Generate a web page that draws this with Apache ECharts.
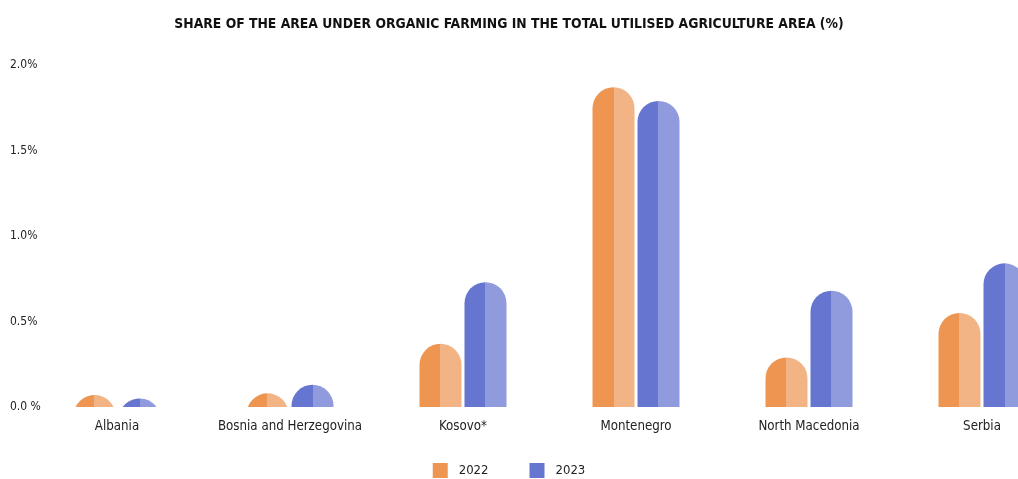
<!DOCTYPE html>
<html><head><meta charset="utf-8">
<script src="https://cdn.jsdelivr.net/npm/echarts@6/dist/echarts.min.js"></script>
<style>html,body{margin:0;padding:0;background:#fff}#c{width:1018px;height:479px}</style>
</head><body><div id="c"></div>
<script>
var categories = ['Albania', 'Bosnia and Herzegovina', 'Kosovo*', 'Montenegro', 'North Macedonia', 'Serbia'];
var values2022 = [0.07, 0.08, 0.37, 1.87, 0.29, 0.55];
var values2023 = [0.05, 0.13, 0.73, 1.79, 0.68, 0.84];
var yTickLabels = ['0.0 %', '0.5%', '1.0%', '1.5%', '2.0%'];

var FONT = '"Liberation Sans Narrow", "DejaVu Sans Condensed", sans-serif';
var BAR_W = 42, GAP = 3;
var COLORS = {
  '2022': ['#EF9552', '#F2B385'],
  '2023': ['#6675D0', '#8F9BDC']
};

function makeRender(seriesIdx, name) {
  return function (params, api) {
    var ci = api.value(0), v = api.value(1);
    var top = api.coord([ci, v]);
    var base = api.coord([ci, 0]);
    var cx = top[0] + (seriesIdx === 0 ? -(GAP / 2 + BAR_W / 2) : (GAP / 2 + BAR_W / 2));
    var yt = top[1], yb = base[1];
    var r = BAR_W / 2, h = yb - yt, d;
    if (h <= 0) return null;
    if (h >= r) {
      var x0 = cx - r, x1 = cx + r;
      d = 'M' + x0 + ' ' + yb + 'L' + x0 + ' ' + (yt + r) + 'A' + r + ' ' + r + ' 0 0 1 ' + x1 + ' ' + (yt + r) + 'L' + x1 + ' ' + yb + 'Z';
    } else {
      var cy = yt + r;
      var hw = Math.sqrt(r * r - (cy - yb) * (cy - yb));
      d = 'M' + (cx - hw) + ' ' + yb + 'A' + r + ' ' + r + ' 0 0 1 ' + (cx + hw) + ' ' + yb + 'Z';
    }
    var c = COLORS[name];
    return {
      type: 'path',
      shape: { pathData: d },
      style: {
        fill: new echarts.graphic.LinearGradient(0, 0, 1, 0, [
          { offset: 0, color: c[0] }, { offset: 0.5, color: c[0] },
          { offset: 0.5, color: c[1] }, { offset: 1, color: c[1] }
        ])
      }
    };
  };
}

var chart = echarts.init(document.getElementById('c'), null, { renderer: 'canvas' });
chart.setOption({
  backgroundColor: '#fff',
  animation: false,
  title: {
    text: 'SHARE OF THE AREA UNDER ORGANIC FARMING IN THE TOTAL UTILISED AGRICULTURE AREA (%)',
    left: 'center', top: 12,
    textStyle: { fontFamily: FONT, fontWeight: 'bold', fontSize: 13.8, color: '#111' }
  },
  legend: {
    top: 458, left: 'center', itemWidth: 15, itemHeight: 15, itemGap: 41, icon: 'rect',
    textStyle: { fontFamily: FONT, fontSize: 13, color: '#222', padding: [0, 0, 0, 6] },
    data: [
      { name: '2022', itemStyle: { color: COLORS['2022'][0] } },
      { name: '2023', itemStyle: { color: COLORS['2023'][0] } }
    ]
  },
  grid: { left: 30.5, width: 1038, top: 65, bottom: 72, containLabel: false, outerBoundsMode: 'none' },
  xAxis: {
    type: 'category', data: categories,
    axisLine: { show: false }, axisTick: { show: false },
    axisLabel: { fontFamily: FONT, fontSize: 13.2, color: '#222', margin: 13, interval: 0 }
  },
  yAxis: {
    type: 'value', min: 0, max: 2, interval: 0.5,
    splitLine: { show: false }, axisLine: { show: false }, axisTick: { show: false },
    axisLabel: {
      fontFamily: FONT, fontSize: 12, color: '#222', align: 'left', margin: 20.5,
      formatter: function (v) { return yTickLabels[Math.round(v / 0.5)]; }
    }
  },
  series: [
    { name: '2022', type: 'custom', renderItem: makeRender(0, '2022'),
      encode: { x: 0, y: 1 }, itemStyle: { color: COLORS['2022'][0] },
      data: values2022.map(function (v, i) { return [i, v]; }) },
    { name: '2023', type: 'custom', renderItem: makeRender(1, '2023'),
      encode: { x: 0, y: 1 }, itemStyle: { color: COLORS['2023'][0] },
      data: values2023.map(function (v, i) { return [i, v]; }) }
  ]
});
</script></body></html>
